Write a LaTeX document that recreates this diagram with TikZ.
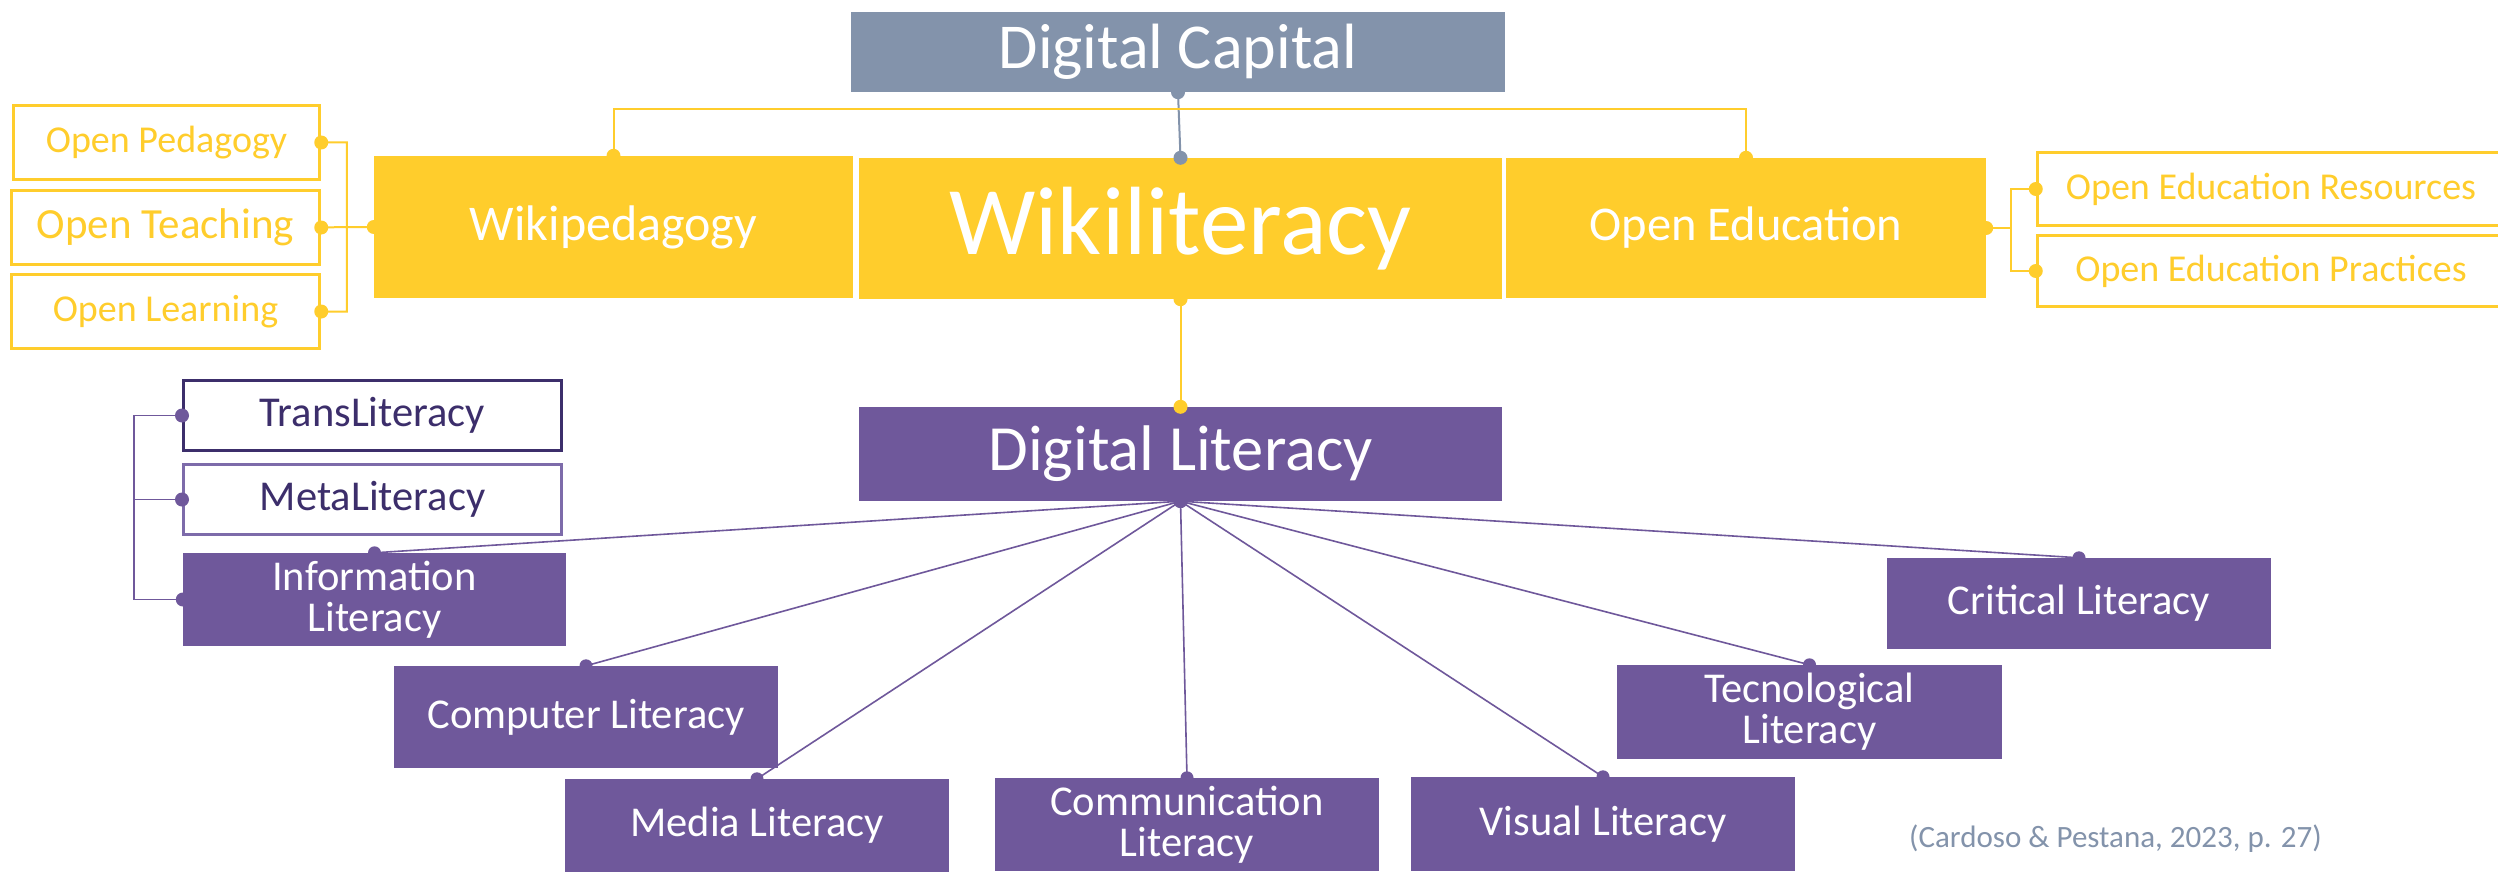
\documentclass[tikz,border=0pt]{standalone}
\usepackage{fontspec}
\setmainfont{Carlito}
\definecolor{capgray}{HTML}{8393AB}
\definecolor{wyel}{HTML}{FFCD2C}
\definecolor{lpur}{HTML}{6F589B}
\definecolor{dpur}{HTML}{3C2E6B}
\definecolor{mpur}{HTML}{7D6BAA}
\tikzset{
  fillbox/.style={rectangle, inner sep=0pt, text=white, align=center},
  capbox/.style={fillbox, fill=capgray, font=\fontsize{64}{70}\selectfont},
  yelbox/.style={fillbox, fill=wyel},
  purbox/.style={fillbox, fill=lpur, minimum width=384, minimum height=93, font=\fontsize{42.5}{41}\selectfont},
  yelout/.style={rectangle, inner sep=0pt, draw=wyel, line width=3.5pt, fill=white, text=wyel, align=center},
  purout/.style={rectangle, inner sep=0pt, line width=3pt, fill=white, text=dpur, minimum width=378, minimum height=70, font=\fontsize{42.5}{45}\selectfont},
  yline/.style={draw=wyel, line width=2pt},
  gline/.style={draw=capgray, line width=2pt},
  pline/.style={draw=lpur, line width=1.6pt},
}
\begin{document}
\begin{tikzpicture}[x=1pt,y=-1pt]
\useasboundingbox (0,0) rectangle (2498,872);
\fill[white] (0,0) rectangle (2498,872);
\clip (0,0) rectangle (2498,872);

% top level
\node[capbox, minimum width=654, minimum height=80] (dc) at (1178,52) {Digital Capital};
\node[yelbox, minimum width=479, minimum height=142, font=\fontsize{50}{55}\selectfont] (wped) at (613.5,227) {Wikipedagogy};
\node[yelbox, minimum width=643, minimum height=141, font=\fontsize{97}{100}\selectfont] (wlit) at (1180.5,228.5) {Wikiliteracy};
\node[yelbox, minimum width=480, minimum height=140, font=\fontsize{48.5}{52}\selectfont] (oe) at (1746,228) {Open Education};

% open boxes left
\node[yelout, minimum width=306, minimum height=74, font=\fontsize{38}{40}\selectfont] (op) at (166.5,142.5) {Open Pedagogy};
\node[yelout, minimum width=308, minimum height=74, font=\fontsize{43}{44}\selectfont] (ot) at (165.5,227.5) {Open Teaching};
\node[yelout, minimum width=308, minimum height=74, font=\fontsize{38}{40}\selectfont] (ol) at (165.5,311.5) {Open Learning};

% open boxes right
\node[yelout, minimum width=467, minimum height=73, font=\fontsize{38}{40}\selectfont] (oer) at (2271,189) {Open Education Resources};
\node[yelout, minimum width=467, minimum height=71, font=\fontsize{38}{40}\selectfont] (oep) at (2271,271) {Open Education Practices};

% digital literacy
\node[fillbox, fill=lpur, minimum width=643, minimum height=94, font=\fontsize{64.5}{70}\selectfont] (dl) at (1180.5,454) {Digital Literacy};

% trans / meta
\node[purout, draw=dpur] (tl) at (372.5,415.5) {TransLiteracy};
\node[purout, draw=mpur] (ml) at (372.5,499.5) {MetaLiteracy};

% children
\node[purbox, minimum width=383] (il) at (374.5,599.5) {Information\\Literacy};
\node[purbox, minimum height=102] (cl) at (586,717) {Computer Literacy};
\node[purbox] (mdl) at (757,825.5) {Media Literacy};
\node[purbox] (cml) at (1187,824.5) {Communication\\Literacy};
\node[purbox, minimum height=94] (vl) at (1603,824) {Visual Literacy};
\node[purbox, minimum width=385, minimum height=94] (tcl) at (1809.5,712) {Tecnological\\Literacy};
\node[purbox, minimum height=91] (crl) at (2079,603.5) {Critical Literacy};

% citation
\node[anchor=base, inner sep=0pt, text=capgray, font=\fontsize{31}{33}\selectfont] (cite) at (2115.5,847) {(Cardoso \& Pestana, 2023, p. 27)};

% connectors
\draw[gline] (dc.south) -- (wlit.north);
\fill[capgray] (dc.south) circle (7pt) (wlit.north) circle (7pt);

\draw[yline] (wlit.south) -- (dl.north);
\fill[wyel] (wlit.south) circle (7pt) (dl.north) circle (7pt);

\draw[yline] (wped.north) -- ++(0,-47) -| (oe.north);
\fill[wyel] (wped.north) circle (7pt) (oe.north) circle (7pt);

\draw[yline] (wped.west) -- ++(-27,0) coordinate (lb) (lb) |- (op.east) (lb) |- (ol.east) (lb) -- (ot.east);
\fill[wyel] (wped.west) circle (7pt) (op.east) circle (7pt) (ot.east) circle (7pt) (ol.east) circle (7pt);

\draw[yline] (oe.east) -- ++(25,0) coordinate (rb) (rb) |- (oer.west) (rb) |- (oep.west);
\fill[wyel] (oe.east) circle (7pt) (oer.west) circle (7pt) (oep.west) circle (7pt);

\draw[pline] (il.west) -- ++(-49,0) coordinate (pb) (pb) |- (tl.west) (pb) |- (ml.west);
\fill[lpur] (il.west) circle (7pt) (tl.west) circle (7pt) (ml.west) circle (7pt);

\foreach \c in {il,cl,mdl,cml,vl,tcl,crl}{
  \draw[pline] (dl.south) -- (\c.north);
  \fill[lpur] (\c.north) circle (6.5pt);
}
\fill[lpur] (dl.south) circle (7pt);
\end{tikzpicture}
\end{document}
